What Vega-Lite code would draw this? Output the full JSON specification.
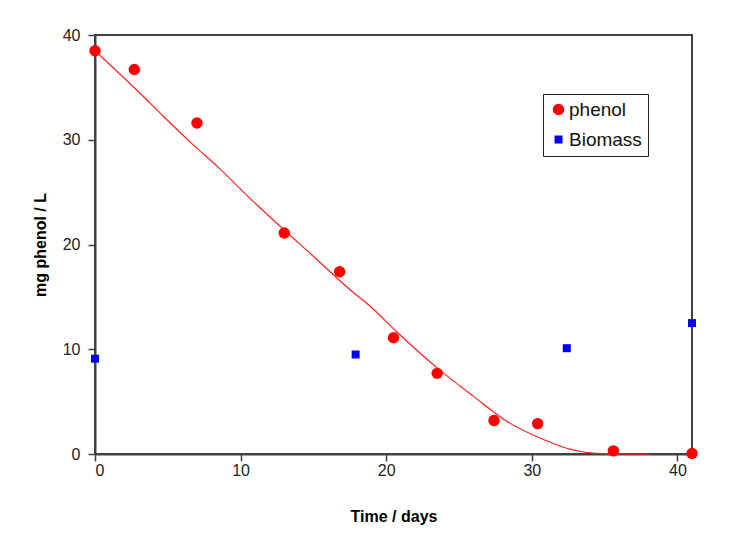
{
  "$schema": "https://vega.github.io/schema/vega-lite/v6.json",
  "width": 597,
  "height": 419,
  "autosize": "none",
  "padding": {"left": 95, "top": 35, "right": 40, "bottom": 86},
  "background": "white",
  "config": {
    "font": "Liberation Sans",
    "view": {"stroke": "#404040", "strokeWidth": 2},
    "axis": {
      "grid": false,
      "domainColor": "#404040",
      "domainWidth": 2,
      "tickColor": "#404040",
      "tickWidth": 1.5,
      "tickSize": 7,
      "labelFont": "Liberation Sans",
      "labelFontSize": 16,
      "labelColor": "#222222",
      "titleFont": "Liberation Sans",
      "titleFontSize": 16,
      "titleFontWeight": "bold",
      "titleColor": "#000000"
    },
    "legend": {
      "labelFont": "Liberation Sans",
      "labelFontSize": 19,
      "labelColor": "#111111"
    }
  },
  "datasets": {
    "points": [
      {"day": 0, "value": 38.5, "series": "phenol"},
      {"day": 2.7, "value": 36.7, "series": "phenol"},
      {"day": 7.0, "value": 31.6, "series": "phenol"},
      {"day": 13.0, "value": 21.1, "series": "phenol"},
      {"day": 16.8, "value": 17.4, "series": "phenol"},
      {"day": 20.5, "value": 11.1, "series": "phenol"},
      {"day": 23.5, "value": 7.7, "series": "phenol"},
      {"day": 27.4, "value": 3.2, "series": "phenol"},
      {"day": 30.4, "value": 2.9, "series": "phenol"},
      {"day": 35.6, "value": 0.3, "series": "phenol"},
      {"day": 41.0, "value": 0.05, "series": "phenol"},
      {"day": 0, "value": 9.1, "series": "Biomass"},
      {"day": 17.9, "value": 9.5, "series": "Biomass"},
      {"day": 32.4, "value": 10.1, "series": "Biomass"},
      {"day": 41.0, "value": 12.5, "series": "Biomass"}
    ],
    "fit": [
      {"day": 0, "value": 38.5},
      {"day": 2.9, "value": 34.7},
      {"day": 4.8, "value": 32.1},
      {"day": 6.6, "value": 29.7},
      {"day": 8.6, "value": 27.2},
      {"day": 10.5, "value": 24.6},
      {"day": 12.9, "value": 21.5},
      {"day": 14.9, "value": 19.0},
      {"day": 17.5, "value": 15.7},
      {"day": 18.9, "value": 14.1},
      {"day": 20.7, "value": 11.7},
      {"day": 23.6, "value": 8.1},
      {"day": 26.0, "value": 5.5},
      {"day": 28.3, "value": 3.1},
      {"day": 30.6, "value": 1.5},
      {"day": 32.4, "value": 0.55},
      {"day": 34.2, "value": 0.08},
      {"day": 36.0, "value": 0},
      {"day": 38.1, "value": 0}
    ]
  },
  "layer": [
    {
      "data": {"name": "fit"},
      "mark": {"type": "line", "color": "#FF2020", "strokeWidth": 1.2, "interpolate": "monotone"},
      "encoding": {
        "x": {"field": "day", "type": "quantitative"},
        "y": {"field": "value", "type": "quantitative"}
      }
    },
    {
      "data": {"name": "points"},
      "mark": {"type": "point", "filled": true, "opacity": 1, "clip": false},
      "encoding": {
        "x": {
          "field": "day",
          "type": "quantitative",
          "scale": {"domain": [0, 41], "nice": false, "zero": false},
          "axis": {"values": [0, 10, 20, 30, 40], "title": "Time / days", "labelPadding": 1, "titlePadding": 30}
        },
        "y": {
          "field": "value",
          "type": "quantitative",
          "scale": {"domain": [0, 40], "nice": false},
          "axis": {"values": [0, 10, 20, 30, 40], "title": "mg phenol / L", "labelPadding": 8, "titlePadding": 14}
        },
        "color": {
          "field": "series",
          "type": "nominal",
          "scale": {"domain": ["phenol", "Biomass"], "range": ["#FF0000", "#0000FF"]},
          "legend": {
            "title": null,
            "orient": "none",
            "legendX": 448,
            "legendY": 59,
            "strokeColor": "#222222",
            "fillColor": "white",
            "padding": 6,
            "rowPadding": 10,
            "labelOffset": 1
          }
        },
        "shape": {
          "field": "series",
          "type": "nominal",
          "scale": {"domain": ["phenol", "Biomass"], "range": ["circle", "square"]}
        },
        "size": {
          "field": "series",
          "type": "nominal",
          "scale": {"domain": ["phenol", "Biomass"], "range": [130, 64]}
        }
      }
    }
  ]
}
